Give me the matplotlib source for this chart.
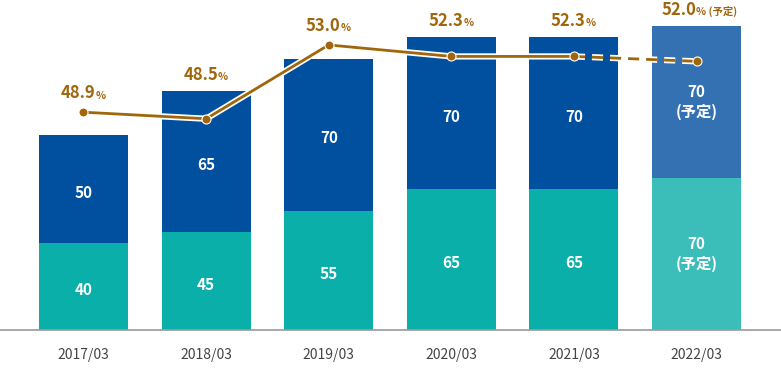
import matplotlib.pyplot as plt
import matplotlib.patheffects as pe
import numpy as np

plt.rcParams['font.family'] = ['Noto Sans CJK JP', 'DejaVu Sans']

years = ['2017/03', '2018/03', '2019/03', '2020/03', '2021/03', '2022/03']
lower = [40, 45, 55, 65, 65, 70]
upper = [50, 65, 70, 70, 70, 70]
ratio = [48.9, 48.5, 53.0, 52.3, 52.3, 52.0]
planned = [False, False, False, False, False, True]

teal, navy = '#0BAFAA', '#00509F'
teal_p, navy_p = '#3BBDB9', '#3371B2'
gold = '#A0660B'

fig = plt.figure(figsize=(7.81, 3.74), dpi=100)
ax = fig.add_axes([0, 44 / 374, 1, 330 / 374])
ax2 = ax.twinx()

x = np.arange(len(years))
w = 0.726
c_low = [teal_p if p else teal for p in planned]
c_up = [navy_p if p else navy for p in planned]
ax.bar(x, lower, w, color=c_low, zorder=2)
ax.bar(x, upper, w, bottom=lower, color=c_up, zorder=2)

for i in range(len(x)):
    for val, base in ((lower[i], 0), (upper[i], lower[i])):
        if planned[i]:
            ax.text(x[i], base + val / 2, f'{val}\n(予定)', ha='center', va='center',
                    color='white', fontsize=11, fontweight='bold', linespacing=1.25, zorder=3)
        else:
            ax.text(x[i], base + val / 2 - 1, f'{val}', ha='center', va='center_baseline',
                    color='white', fontsize=11, fontweight='bold', zorder=3)

ax.set_xlim(-0.681, 5.689)
ax.set_ylim(0, 152)
ax2.set_ylim(35.62, 55.74)

# line with white outline, markers drawn on top without outline
stroke = [pe.Stroke(linewidth=4.5, foreground='white'), pe.Normal()]
ax2.plot(x[:5], ratio[:5], color=gold, lw=2, path_effects=stroke, zorder=5)
ax2.plot(x[4:], ratio[4:], color=gold, lw=2, ls=(0, (4, 2.5)), path_effects=stroke, zorder=5)
ax2.plot(x, ratio, ls='none', marker='o', ms=6.5, color=gold, mec='white', mew=0.8, zorder=6)

# labels above the higher of line point / bar top
for i in range(len(x)):
    yb = lower[i] + upper[i]
    yl = ax.transData.inverted().transform(ax2.transData.transform((x[i], ratio[i])))[1]
    dy = 5 if yb > yl else 7
    off = -13 if planned[i] else -4
    t = ax.annotate(f'{ratio[i]:.1f}', (x[i], max(yb, yl)), xytext=(off, dy),
                    textcoords='offset points', ha='center', va='bottom', color=gold,
                    fontsize=12, fontweight='bold', annotation_clip=False)
    suffix = '% (予定)' if planned[i] else '%'
    ax.annotate(suffix, xy=(1, 0.1), xycoords=t, xytext=(0, 0), textcoords='offset points',
                ha='left', va='bottom', color=gold, fontsize=7.5, fontweight='bold',
                annotation_clip=False)

for a in (ax, ax2):
    for s in ('top', 'left', 'right'):
        a.spines[s].set_visible(False)
    a.set_yticks([])
ax2.spines['bottom'].set_visible(False)
ax.spines['bottom'].set_color('#9A9A9A')
ax.spines['bottom'].set_linewidth(1.2)
ax.set_xticks(x)
ax.set_xticklabels(years, fontsize=10, color='#444444')
ax.tick_params(axis='x', length=0, pad=13)

fig.savefig('out.png', dpi=100)
